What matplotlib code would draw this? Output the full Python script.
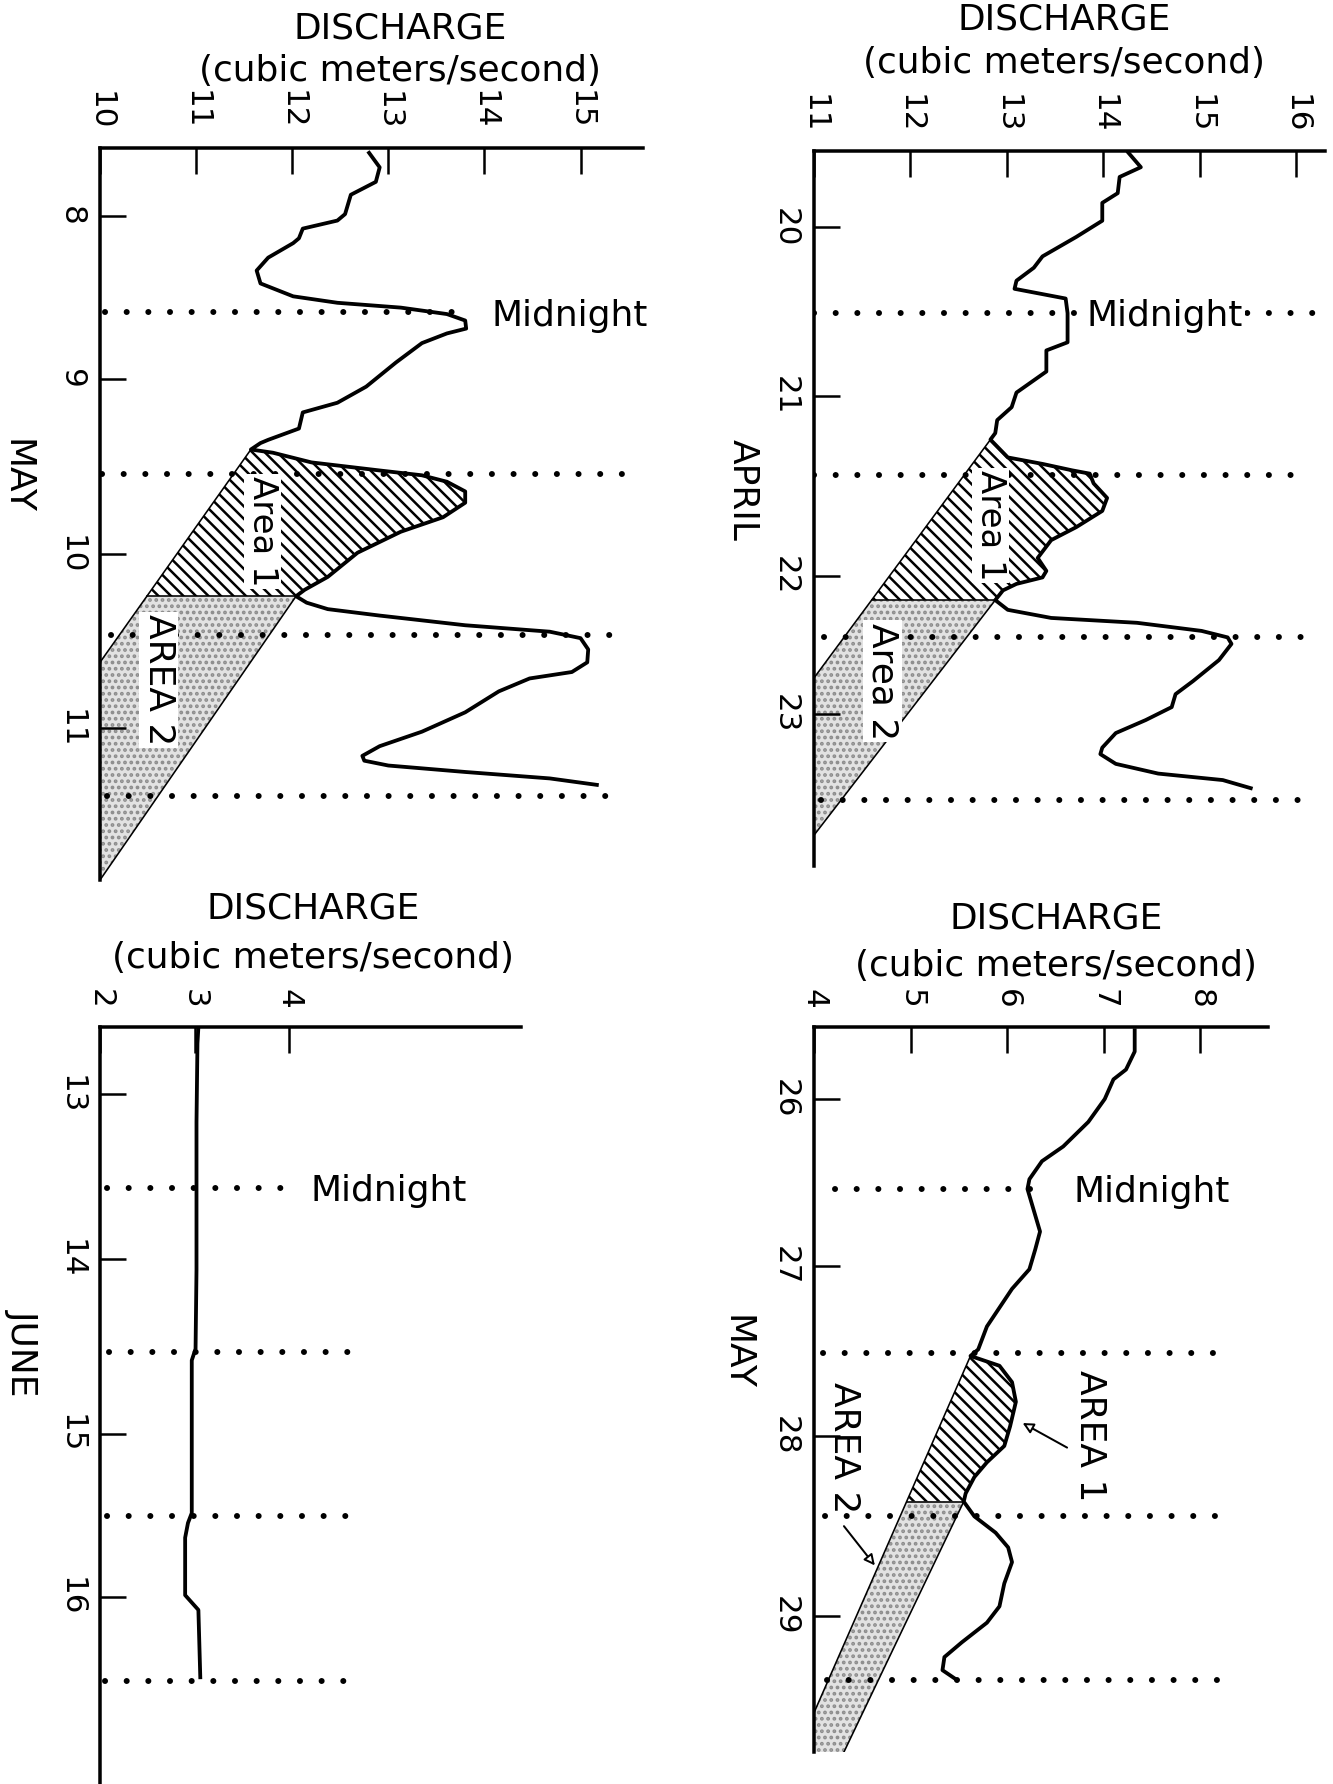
import numpy as np
import matplotlib
matplotlib.use("Agg")
import matplotlib.pyplot as plt
from matplotlib.patches import Polygon

DPI = 150
FIG_W, FIG_H = 1333, 1784
PT = 72.0 / DPI  # points in one output pixel

plt.rcParams["font.family"] = ["DejaVu Sans"]
plt.rcParams["hatch.linewidth"] = 2.5 * PT

# ---------------- values ----------------
# upper left: May 8-11 (day of month, midnight = whole number)
may_a_day = [8.01, 8.10, 8.19, 8.27, 8.39, 8.43, 8.48, 8.54, 8.57, 8.66,
             8.74, 8.82, 8.90, 8.94, 8.97, 9.01, 9.05, 9.10, 9.13, 9.19,
             9.31, 9.46, 9.56, 9.62, 9.72, 9.79, 9.81, 9.85, 9.87, 9.93,
             9.98, 10.01, 10.05, 10.11, 10.18, 10.27, 10.36, 10.49, 10.64, 10.72,
             10.76, 10.80, 10.84, 10.88, 10.94, 10.98, 11.02, 11.09, 11.17, 11.23,
             11.27, 11.35, 11.48, 11.60, 11.69, 11.75, 11.78, 11.81, 11.85, 11.89,
             11.93]
may_a_q = [12.80, 12.91, 12.87, 12.61, 12.55, 12.47, 12.11, 12.07, 12.01, 11.75,
           11.63, 11.67, 12.01, 12.47, 13.13, 13.61, 13.80, 13.81, 13.61, 13.35,
           13.08, 12.77, 12.47, 12.11, 12.07, 11.75, 11.67, 11.57, 11.80, 12.20,
           12.91, 13.35, 13.61, 13.80, 13.80, 13.57, 13.13, 12.68, 12.37, 12.13,
           12.04, 12.15, 12.37, 12.91, 13.80, 14.68, 15.00, 15.08, 15.07, 14.91,
           14.47, 14.15, 13.80, 13.35, 12.91, 12.73, 12.75, 13.00, 13.80, 14.68,
           15.17]
may_a_ticks = [8.40, 9.41, 10.50, 11.58]
may_a_labels = ["8", "9", "10", "11"]
may_a_qticks = [10, 11, 12, 13, 14, 15]
may_a_midnights = [9, 10, 11, 12]
may_a_rise = (9.85, 10.76)
may_a_rec1_end = (10.0, 11.17)
may_a_rec2_end = (10.0, 12.52)

# upper right: April 20-23
apr_day = [20.01, 20.10, 20.16, 20.26, 20.32, 20.43, 20.53, 20.65, 20.72, 20.80,
           20.85, 20.91, 21.00, 21.18, 21.23, 21.36, 21.49, 21.58, 21.66, 21.74,
           21.78, 21.89, 21.93, 21.97, 21.99, 22.05, 22.14, 22.22, 22.32, 22.40,
           22.51, 22.59, 22.63, 22.67, 22.71, 22.77, 22.83, 22.88, 22.91, 22.96,
           23.00, 23.04, 23.14, 23.27, 23.35, 23.43, 23.51, 23.59, 23.68, 23.72,
           23.78, 23.84, 23.88, 23.93]
apr_q = [14.26, 14.39, 14.17, 14.15, 13.99, 13.99, 13.72, 13.37, 13.28, 13.10,
         13.08, 13.61, 13.63, 13.63, 13.41, 13.41, 13.10, 13.05, 12.90, 12.88,
         12.83, 13.01, 13.37, 13.68, 13.86, 13.90, 14.04, 13.99, 13.72, 13.46,
         13.32, 13.41, 13.37, 13.10, 12.96, 12.88, 13.01, 13.46, 14.35, 15.02,
         15.29, 15.33, 15.20, 14.93, 14.75, 14.71, 14.44, 14.13, 13.99, 13.97,
         14.13, 14.57, 15.24, 15.53]
apr_ticks = [20.47, 21.51, 22.62, 23.47]
apr_labels = ["20", "21", "22", "23"]
apr_qticks = [11, 12, 13, 14, 15, 16]
apr_midnights = [21, 22, 23, 24]
apr_rise = (21.78, 22.77)
apr_rec1_end = (11.0, 23.25)
apr_rec2_end = (11.0, 24.22)

# lower left: June 13-16
jun_day = [13.02, 13.12, 13.60, 14.50, 14.98, 15.05, 15.98, 16.04, 16.13, 16.48,
           16.57, 16.98]
jun_q = [3.04, 3.03, 3.02, 3.02, 3.01, 2.97, 2.97, 2.93, 2.90, 2.90,
         3.04, 3.06]
jun_ticks = [13.43, 14.43, 15.50, 16.49]
jun_labels = ["13", "14", "15", "16"]
jun_qticks = [2, 3, 4]
jun_midnights = [14, 15, 16, 17]

# lower right: May 26-29
may_b_day = [26.03, 26.16, 26.27, 26.33, 26.45, 26.59, 26.74, 26.83, 26.94, 27.00,
             27.12, 27.26, 27.37, 27.49, 27.61, 27.84, 27.98, 28.02, 28.08, 28.18,
             28.30, 28.45, 28.57, 28.67, 28.76, 28.86, 28.91, 29.00, 29.10, 29.19,
             29.28, 29.41, 29.55, 29.65, 29.77, 29.86, 29.94, 30.00]
may_b_q = [7.32, 7.32, 7.23, 7.10, 7.01, 6.84, 6.58, 6.36, 6.23, 6.21,
           6.27, 6.34, 6.29, 6.23, 6.05, 5.79, 5.70, 5.62, 5.92, 6.05,
           6.09, 6.03, 5.97, 5.79, 5.66, 5.57, 5.55, 5.66, 5.88, 6.01,
           6.05, 5.97, 5.92, 5.79, 5.53, 5.35, 5.33, 5.48]
may_b_ticks = [26.45, 27.47, 28.51, 29.61]
may_b_labels = ["26", "27", "28", "29"]
may_b_qticks = [4, 5, 6, 7, 8]
may_b_midnights = [27, 28, 29, 30]
may_b_rise = (28.02, 28.91)
may_b_rec1_end = (4.0, 30.2)
may_b_rec2_end = (4.31, 30.44)

# ---------------- drawing ----------------
BIG = 36 * PT     # text size (px -> pt)
TICK = 31 * PT
DOTS = dict(color="black", lw=6 * PT, linestyle=(0, (0.01, 3.6)),
            dash_capstyle="round", zorder=2.5)

fig = plt.figure(figsize=(FIG_W / DPI, FIG_H / DPI), dpi=DPI)
fig.patch.set_facecolor("white")


def make_axes(left, top, right, bottom, xlim, ylim, qticks, dticks, dlabels):
    ax = fig.add_axes([left / FIG_W, 1 - bottom / FIG_H,
                       (right - left) / FIG_W, (bottom - top) / FIG_H])
    ax.set_xlim(*xlim)
    ax.set_ylim(ylim[1], ylim[0])
    ax.patch.set_visible(False)
    for s in ["right", "bottom"]:
        ax.spines[s].set_visible(False)
    for s in ["left", "top"]:
        ax.spines[s].set_linewidth(3.5 * PT)
    ax.xaxis.tick_top()
    ax.set_xticks(qticks)
    ax.set_xticklabels([str(v) for v in qticks], rotation=-90)
    ax.set_yticks(dticks)
    ax.set_yticklabels(dlabels, rotation=-90, va="center")
    ax.tick_params(axis="x", direction="in", length=26 * PT, width=2.5 * PT,
                   pad=18 * PT, labelsize=TICK)
    ax.tick_params(axis="y", direction="in", length=26 * PT, width=2.5 * PT,
                   pad=14 * PT, labelsize=TICK)
    return ax


def titles(ax, x, y1, y2, month, mx, my):
    ax.text(x, y1, "DISCHARGE", ha="center", va="center", fontsize=BIG)
    ax.text(x, y2, "(cubic meters/second)", ha="center", va="center", fontsize=BIG)
    ax.text(mx, my, month, rotation=-90, ha="center", va="center", fontsize=BIG)


def midnight_lines(ax, days, spans, label_x, boxed=False):
    for d, (x0, x1) in zip(days, spans):
        ax.plot([x0, x1], [d, d], **DOTS)
    box = dict(facecolor="white", edgecolor="none", pad=1) if boxed else None
    ax.text(label_x, days[0] + 0.02, "Midnight", ha="left", va="center",
            fontsize=BIG, bbox=box, zorder=5)


def areas(ax, day, q, rise, rec1_end, rec2_end, xmin):
    day = np.asarray(day)
    q = np.asarray(q)
    i0 = int(np.argmin(np.abs(day - rise[0])))
    i1 = int(np.argmin(np.abs(day - rise[1])))
    t1 = day[i1]
    corner = np.interp(t1, [day[i0], rec1_end[1]], [q[i0], rec1_end[0]])
    a1 = list(zip(q[i0:i1 + 1], day[i0:i1 + 1])) + [(corner, t1)]
    a2 = [(corner, t1), (q[i1], t1), rec2_end, (xmin, rec2_end[1]), rec1_end]
    ax.add_patch(Polygon(a1, closed=True, facecolor="white", edgecolor="black",
                         hatch="\\\\\\\\", lw=0, zorder=1))
    ax.add_patch(Polygon(a2, closed=True, facecolor="#e2e2e2", edgecolor="#8c8c8c",
                         hatch="....", lw=0, zorder=1))
    thin = dict(color="black", lw=1.6 * PT, zorder=2)
    ax.plot([q[i0], rec1_end[0]], [day[i0], rec1_end[1]], **thin)
    ax.plot([corner, q[i1]], [t1, t1], **thin)
    ax.plot([q[i1], rec2_end[0]], [t1, rec2_end[1]], **thin)


curve = dict(color="black", lw=3.8 * PT, zorder=3, solid_joinstyle="round")
white = dict(facecolor="white", edgecolor="none", pad=1)

# upper left
ax = make_axes(100, 148, 643, 880, (10, 15.65), (7.98, 12.52),
               may_a_qticks, may_a_ticks, may_a_labels)
areas(ax, may_a_day, may_a_q, may_a_rise, may_a_rec1_end, may_a_rec2_end, 10)
ax.plot(may_a_q, may_a_day, **curve)
midnight_lines(ax, may_a_midnights,
               [(10.05, 13.84), (10.02, 15.62), (10.11, 15.51), (10.07, 15.44)], 14.07)
titles(ax, 13.12, 7.24, 7.50, "MAY", 9.13, 10.02)
ax.text(11.69, 10.36, "Area 1", rotation=-90, ha="center", va="center",
        fontsize=34 * PT, bbox=white, zorder=5)
ax.text(10.61, 11.28, "AREA 2", rotation=-90, ha="center", va="center",
        fontsize=BIG, bbox=white, zorder=5)

# upper right
ax = make_axes(814, 151, 1325, 866, (11, 16.3), (20.0, 24.41),
               apr_qticks, apr_ticks, apr_labels)
areas(ax, apr_day, apr_q, apr_rise, apr_rec1_end, apr_rec2_end, 11)
ax.plot(apr_q, apr_day, **curve)
midnight_lines(ax, apr_midnights,
               [(11.0, 16.2), (11.0, 16.13), (11.1, 16.27), (11.07, 16.18)], 13.83,
               boxed=True)
titles(ax, 13.59, 19.19, 19.46, "APRIL", 10.26, 22.09)
ax.text(12.83, 22.31, "Area 1", rotation=-90, ha="center", va="center",
        fontsize=34 * PT, bbox=white, zorder=5)
ax.text(11.71, 23.27, "Area 2", rotation=-90, ha="center", va="center",
        fontsize=BIG, bbox=white, zorder=5)

# lower left
ax = make_axes(100, 1027, 521, 1784, (2, 6.45), (13.02, 17.63),
               jun_qticks, jun_ticks, jun_labels)
ax.plot(jun_q, jun_day, **curve)
midnight_lines(ax, jun_midnights,
               [(2.07, 3.95), (2.09, 4.71), (2.07, 4.80), (2.05, 4.78)], 4.22)
titles(ax, 4.25, 12.30, 12.60, "JUNE", 1.19, 15.0)

# lower right
ax = make_axes(814, 1027, 1268, 1752, (4, 8.7), (26.01, 30.44),
               may_b_qticks, may_b_ticks, may_b_labels)
areas(ax, may_b_day, may_b_q, may_b_rise, may_b_rec1_end, may_b_rec2_end, 4)
ax.plot(may_b_q, may_b_day, **curve)
midnight_lines(ax, may_b_midnights,
               [(4.22, 6.45), (4.09, 8.26), (4.11, 8.30), (4.13, 8.32)], 6.69)
titles(ax, 6.51, 25.35, 25.64, "MAY", 3.2, 28.0)
ax.text(6.86, 28.51, "AREA 1", rotation=-90, ha="center", va="center",
        fontsize=BIG, zorder=5)
ax.text(4.31, 28.58, "AREA 2", rotation=-90, ha="center", va="center",
        fontsize=BIG, zorder=5)
arrow = dict(arrowstyle="-|>", lw=2 * PT, fc="white", ec="black",
             mutation_scale=22 * PT, shrinkA=0, shrinkB=0)
ax.annotate("", xy=(6.16, 28.43), xytext=(6.62, 28.58), arrowprops=arrow, zorder=5)
ax.annotate("", xy=(4.63, 29.30), xytext=(4.31, 29.06), arrowprops=arrow, zorder=5)

fig.savefig("out.png", dpi=DPI, facecolor="white")
